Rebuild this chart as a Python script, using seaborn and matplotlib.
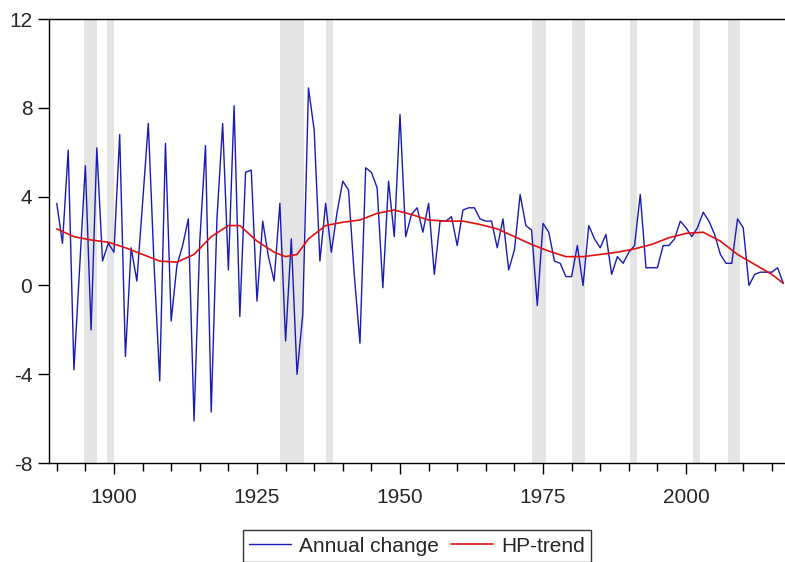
import numpy as np
import pandas as pd
import matplotlib.pyplot as plt
import seaborn as sns
from matplotlib.ticker import MultipleLocator

years = list(range(1890, 2018))
annual_change = [
    3.7, 1.9, 6.1, -3.8, 0.8, 5.4, -2.0, 6.2, 1.1, 1.9,      # 1890s
    1.5, 6.8, -3.2, 1.7, 0.2, 3.7, 7.3, 1.0, -4.3, 6.4,      # 1900s
    -1.6, 0.9, 1.8, 3.0, -6.1, 2.0, 6.3, -5.7, 3.0, 7.3,     # 1910s
    0.7, 8.1, -1.4, 5.1, 5.2, -0.7, 2.9, 1.3, 0.2, 3.7,      # 1920s
    -2.5, 2.1, -4.0, -1.3, 8.9, 7.0, 1.1, 3.7, 1.5, 3.3,     # 1930s
    4.7, 4.3, 0.5, -2.6, 5.3, 5.1, 4.4, -0.1, 4.7, 2.2,      # 1940s
    7.7, 2.2, 3.2, 3.5, 2.4, 3.7, 0.5, 2.9, 2.9, 3.1,        # 1950s
    1.8, 3.4, 3.5, 3.5, 3.0, 2.9, 2.9, 1.7, 3.0, 0.7,        # 1960s
    1.6, 4.1, 2.7, 2.5, -0.9, 2.8, 2.4, 1.1, 1.0, 0.4,       # 1970s
    0.4, 1.8, 0.0, 2.7, 2.1, 1.7, 2.3, 0.5, 1.3, 1.0,        # 1980s
    1.5, 1.8, 4.1, 0.8, 0.8, 0.8, 1.8, 1.8, 2.1, 2.9,        # 1990s
    2.6, 2.2, 2.6, 3.3, 2.9, 2.3, 1.4, 1.0, 1.0, 3.0,        # 2000s
    2.6, 0.0, 0.5, 0.6, 0.6, 0.6, 0.8, 0.1,                  # 2010s
]

trend_years = [1890, 1893, 1896, 1899, 1902, 1905, 1908, 1911, 1914, 1917,
               1920, 1922, 1925, 1928, 1930, 1932, 1934, 1937, 1940, 1943,
               1946, 1949, 1952, 1955, 1958, 1961, 1964, 1967, 1970, 1973,
               1976, 1979, 1982, 1985, 1988, 1991, 1994, 1997, 2000, 2003,
               2006, 2009, 2012, 2015, 2017]
hp_trend = [2.55, 2.2, 2.05, 1.95, 1.7, 1.4, 1.1, 1.05, 1.4, 2.2,
            2.7, 2.7, 2.0, 1.5, 1.3, 1.4, 2.1, 2.7, 2.85, 2.95,
            3.25, 3.4, 3.2, 2.95, 2.9, 2.9, 2.75, 2.55, 2.2, 1.85,
            1.55, 1.3, 1.3, 1.4, 1.5, 1.65, 1.85, 2.15, 2.35, 2.4,
            2.0, 1.4, 0.95, 0.5, 0.1]

recession_start = [1894.8, 1898.7, 1929.0, 1937.0, 1973.0, 1980.0, 1990.2, 2001.3, 2007.4]
recession_end = [1897.0, 1900.0, 1933.2, 1938.3, 1975.5, 1982.3, 1991.4, 2002.4, 2009.5]

sns.set_style('white')
plt.rcParams['font.family'] = ['Liberation Sans', 'DejaVu Sans']
plt.rcParams['axes.unicode_minus'] = False

fig = plt.figure(figsize=(7.85, 5.62), dpi=100)
ax = fig.add_axes([0.0624, 0.176, 0.9376, 0.790])

for s, e in zip(recession_start, recession_end):
    ax.axvspan(s, e, color='#e4e4e4', lw=0, zorder=0)

annual = pd.DataFrame({'year': years, 'value': annual_change})
trend = pd.DataFrame({'year': trend_years, 'value': hp_trend})
sns.lineplot(data=annual, x='year', y='value', ax=ax, color='#1a1ab4', lw=1.0,
             label='Annual change')
sns.lineplot(data=trend, x='year', y='value', ax=ax, color='#e01010', lw=1.2,
             label='HP-trend')

ax.set_xlim(1888.64, 2017.3)
ax.set_ylim(-8, 12)
ax.yaxis.set_major_locator(MultipleLocator(4))
ax.xaxis.set_major_locator(MultipleLocator(25))
ax.xaxis.set_minor_locator(MultipleLocator(5))
ax.set_xlabel('')
ax.set_ylabel('')
ax.tick_params(axis='both', which='both', direction='out', color='black',
               labelsize=15, bottom=True, left=True)
ax.tick_params(axis='x', which='major', length=8, width=1, pad=10)
ax.tick_params(axis='x', which='minor', length=6, width=1)
ax.tick_params(axis='y', which='major', length=8, width=1, pad=4)
for side in ['left', 'bottom', 'top']:
    ax.spines[side].set_color('black')
    ax.spines[side].set_linewidth(1.0)
ax.spines['right'].set_visible(False)

leg = ax.legend(loc='upper center', bbox_to_anchor=(0.5, -0.128), ncol=2,
                frameon=True, fancybox=False, edgecolor='black', fontsize=15,
                handlelength=2.0, columnspacing=0.6, handletextpad=0.4,
                borderpad=0.3)
leg.get_frame().set_linewidth(1.0)

fig.savefig('out.png', dpi=100)
